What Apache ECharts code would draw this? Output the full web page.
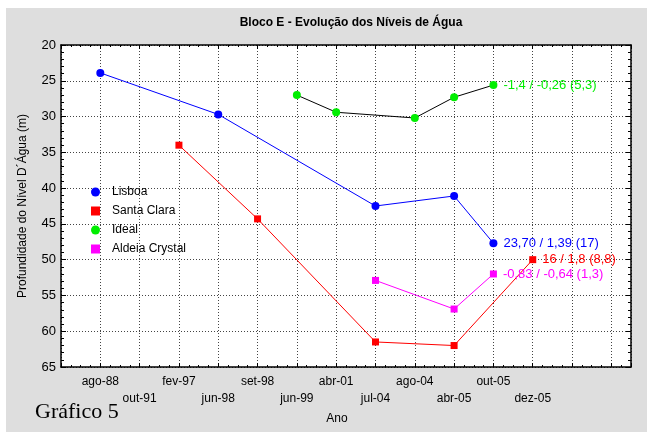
<!DOCTYPE html>
<html>
<head>
<meta charset="utf-8">
<script src="https://cdn.jsdelivr.net/npm/echarts@6/dist/echarts.min.js"></script>
<style>
  html, body { margin: 0; padding: 0; background: #fff; }
  .wrap { position: relative; width: 647px; height: 432px; }
  .frame { position: absolute; left: 6px; top: 8px; right: 0; bottom: 0; background: #dedede; }
  #chart { position: absolute; left: 0; top: 0; width: 647px; height: 432px; }
</style>
</head>
<body>
<div class="wrap">
  <div class="frame"></div>
  <div id="chart"></div>
</div>
<script>
// eixo X: datas das campanhas (rótulos alternados em duas linhas)
const categories = ['ago-88', 'out-91', 'fev-97', 'jun-98', 'set-98', 'jun-99', 'abr-01', 'jul-04', 'ago-04', 'abr-05', 'out-05', 'dez-05']

const lisboaDates = ['ago-88', 'jun-98', 'jul-04', 'abr-05', 'out-05']
const lisboaValues = [23.9, 29.7, 42.5, 41.1, 47.7]

const santaClaraDates = ['fev-97', 'set-98', 'jul-04', 'abr-05', 'dez-05']
const santaClaraValues = [34.0, 44.3, 61.5, 62.0, 50.0]

const idealDates = ['jun-99', 'abr-01', 'ago-04', 'abr-05', 'out-05']
const idealValues = [27.0, 29.4, 30.2, 27.3, 25.6]

const aldeiaDates = ['jul-04', 'abr-05', 'out-05']
const aldeiaValues = [52.9, 56.9, 52.0]

// anotações no último ponto de cada série
const seriesNames = ['Lisboa', 'Santa Clara', 'Ideal', 'Aldeia Crystal']
const endNotes = ['23,70 / 1,39 (17)', '16 / 1,8 (8,8)', '-1,4 / -0,26 (5,3)', '-0,83 / -0,64 (1,3)']

const FONT = '"Liberation Sans", Arial, sans-serif'

const toPoints = (dates, values, note, color) => dates.map((d, i) => {
    const p = { value: [categories.indexOf(d), values[i]] }
    if (i === dates.length - 1) {
        p.label = {
            show: true,
            position: 'right',
            distance: 6,
            formatter: note,
            color: color,
            fontSize: 13,
            fontFamily: FONT
        }
    }
    return p
})

const tickLabel = (v) => {
    if (!Number.isInteger(v) || v < 0 || v >= categories.length) return ''
    return v % 2 ? '\n' + categories[v] : categories[v]
}

const gridLine = { show: true, lineStyle: { color: '#444', type: [1, 2], width: 1 } }
const axisLine = { show: true, onZero: false, lineStyle: { color: '#000', width: 1.5 } }

const xBase = {
    type: 'value',
    min: -1,
    max: 13.5,
    interval: 1,
    axisLine: axisLine,
    axisTick: { show: true, inside: true, length: 4, lineStyle: { color: '#000' } },
    minorTick: { show: true, splitNumber: 4, length: 2, lineStyle: { color: '#000' } }
}

const yBase = {
    type: 'value',
    inverse: true,
    min: 20,
    max: 65,
    interval: 5,
    axisLine: axisLine,
    axisTick: { show: true, inside: true, length: 5, lineStyle: { color: '#000' } },
    minorTick: { show: true, splitNumber: 5, length: 3, lineStyle: { color: '#000' } }
}

const chart = echarts.init(document.getElementById('chart'), null, { renderer: 'canvas' })

const option = {
    backgroundColor: 'transparent',
    animation: false,
    title: {
        text: 'Bloco E - Evolução dos Níveis de Água',
        left: 346,
        top: 12,
        textAlign: 'center',
        textStyle: { fontSize: 12, fontWeight: 'bold', color: '#000', fontFamily: FONT }
    },
    grid: {
        left: 61,
        right: 16,
        top: 45,
        bottom: 65,
        show: true,
        backgroundColor: '#fff',
        borderWidth: 0
    },
    legend: {
        orient: 'vertical',
        left: 86,
        top: 180,
        itemWidth: 9,
        itemHeight: 9,
        itemGap: 5,
        textStyle: { fontSize: 12, color: '#000', fontFamily: FONT, lineHeight: 14, padding: [0, 0, 0, 7] },
        data: [
            { name: 'Lisboa', icon: 'circle' },
            { name: 'Santa Clara', icon: 'rect' },
            { name: 'Ideal', icon: 'circle' },
            { name: 'Aldeia Crystal', icon: 'rect' }
        ]
    },
    xAxis: [
        Object.assign({}, xBase, {
            position: 'bottom',
            name: 'Ano',
            nameLocation: 'middle',
            nameGap: 46,
            nameTextStyle: { fontSize: 12, color: '#000', fontFamily: FONT, padding: [0, 18, 0, 0] },
            splitLine: gridLine,
            axisLabel: {
                formatter: tickLabel,
                fontSize: 12,
                lineHeight: 17,
                margin: 6,
                color: '#000',
                fontFamily: FONT,
                showMinLabel: true,
                showMaxLabel: true
            }
        }),
        Object.assign({}, xBase, {
            position: 'top',
            splitLine: { show: false },
            axisLabel: { show: false }
        })
    ],
    yAxis: [
        Object.assign({}, yBase, {
            position: 'left',
            name: 'Profundidade do Nível D´Água (m)',
            nameLocation: 'middle',
            nameGap: 32,
            nameTextStyle: { fontSize: 12, color: '#000', fontFamily: FONT },
            splitLine: gridLine,
            axisLabel: { fontSize: 13, color: '#000', margin: 5, fontFamily: FONT }
        }),
        Object.assign({}, yBase, {
            position: 'right',
            splitLine: { show: false },
            axisLabel: { show: false }
        })
    ],
    graphic: [
        {
            type: 'text',
            left: 35,
            top: 401,
            style: { text: 'Gráfico 5', fontSize: 22, fill: '#000', fontFamily: '"Liberation Serif", "Times New Roman", serif' }
        }
    ],
    series: [
        {
            name: seriesNames[0],
            type: 'line',
            symbol: 'circle',
            symbolSize: 8,
            lineStyle: { color: '#0000ff', width: 1 },
            itemStyle: { color: '#0000ff' },
            data: toPoints(lisboaDates, lisboaValues, endNotes[0], '#0000ff')
        },
        {
            name: seriesNames[1],
            type: 'line',
            symbol: 'rect',
            symbolSize: 7,
            lineStyle: { color: '#ff0000', width: 1 },
            itemStyle: { color: '#ff0000' },
            data: toPoints(santaClaraDates, santaClaraValues, endNotes[1], '#ff0000')
        },
        {
            name: seriesNames[2],
            type: 'line',
            symbol: 'circle',
            symbolSize: 8,
            lineStyle: { color: '#000', width: 1 },
            itemStyle: { color: '#00ee00' },
            data: toPoints(idealDates, idealValues, endNotes[2], '#00ee00')
        },
        {
            name: seriesNames[3],
            type: 'line',
            symbol: 'rect',
            symbolSize: 7,
            lineStyle: { color: '#ff00ff', width: 1 },
            itemStyle: { color: '#ff00ff' },
            data: toPoints(aldeiaDates, aldeiaValues, endNotes[3], '#ff00ff')
        }
    ]
}

chart.setOption(option)
window.addEventListener('resize', () => chart.resize())
</script>
</body>
</html>
